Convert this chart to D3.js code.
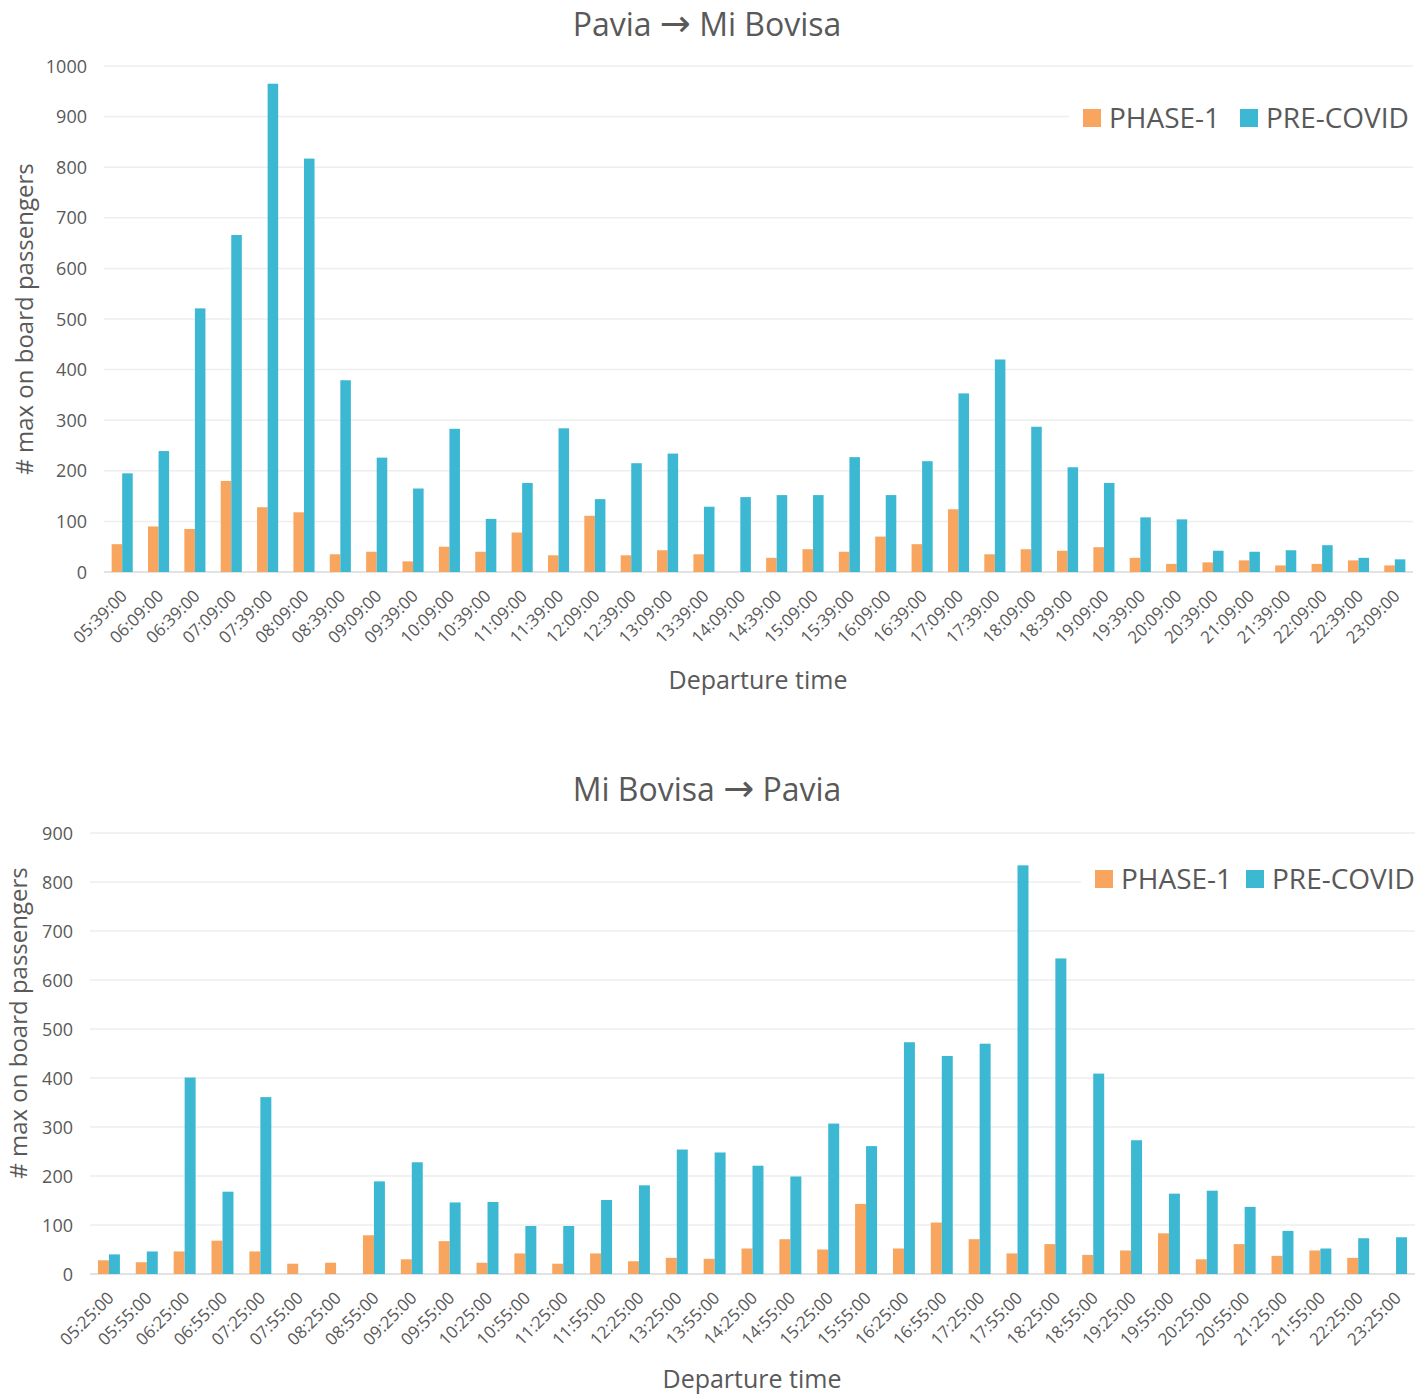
<!DOCTYPE html>
<html>
<head>
<meta charset="utf-8">
<script src="https://d3js.org/d3.v7.min.js"></script>
<style>
    body { margin: 0; background: #fff; }
    svg text { font-family: "Open Sans", "Noto Sans", sans-serif; fill: #595959; }
</style>
</head>
<body>
<div id="chart"></div>
<script>

    // Pavia -> Mi Bovisa
    var timesTop = ["05:39:00", "06:09:00", "06:39:00", "07:09:00", "07:39:00", "08:09:00",
        "08:39:00", "09:09:00", "09:39:00", "10:09:00", "10:39:00", "11:09:00", "11:39:00",
        "12:09:00", "12:39:00", "13:09:00", "13:39:00", "14:09:00", "14:39:00", "15:09:00",
        "15:39:00", "16:09:00", "16:39:00", "17:09:00", "17:39:00", "18:09:00", "18:39:00",
        "19:09:00", "19:39:00", "20:09:00", "20:39:00", "21:09:00", "21:39:00", "22:09:00",
        "22:39:00", "23:09:00"];
    var phase1Top = [55, 90, 85, 180, 128, 118, 35, 40, 21, 50, 40, 78, 33, 111, 33, 43, 35, 0,
        28, 45, 40, 70, 55, 124, 35, 45, 42, 49, 28, 16, 19, 23, 13, 16, 23, 13];
    var precovidTop = [195, 239, 521, 666, 965, 817, 379, 226, 165, 283, 105, 176, 284, 144, 215,
        234, 129, 148, 152, 152, 227, 152, 219, 353, 420, 287, 207, 176, 108, 104, 42, 40, 43,
        53, 28, 25];

    // Mi Bovisa -> Pavia
    var timesBottom = ["05:25:00", "05:55:00", "06:25:00", "06:55:00", "07:25:00", "07:55:00",
        "08:25:00", "08:55:00", "09:25:00", "09:55:00", "10:25:00", "10:55:00", "11:25:00",
        "11:55:00", "12:25:00", "13:25:00", "13:55:00", "14:25:00", "14:55:00", "15:25:00",
        "15:55:00", "16:25:00", "16:55:00", "17:25:00", "17:55:00", "18:25:00", "18:55:00",
        "19:25:00", "19:55:00", "20:25:00", "20:55:00", "21:25:00", "21:55:00", "22:25:00",
        "23:25:00"];
    var phase1Bottom = [28, 24, 46, 68, 46, 21, 23, 79, 30, 67, 23, 42, 21, 42, 26, 33, 31, 52,
        71, 50, 143, 52, 105, 71, 42, 61, 39, 48, 83, 30, 61, 37, 48, 33, 0];
    var precovidBottom = [40, 46, 401, 168, 361, 0, 0, 189, 228, 146, 147, 98, 98, 151, 181, 254,
        248, 221, 199, 307, 261, 473, 445, 470, 834, 644, 409, 273, 164, 170, 137, 88, 52, 73, 75];

    var seriesNames = ["PHASE-1", "PRE-COVID"];
    var colors = ["#F8A55F", "#3DB8D2"];

    var svg = d3.select("#chart").append("svg")
        .attr("width", 1418)
        .attr("height", 1397);

    function drawChart(cfg) {
        var g = svg.append("g");
        var x = d3.scaleBand()
            .domain(cfg.times)
            .range([cfg.left, cfg.right])
            .paddingInner(0.42)
            .paddingOuter(0.21);
        var xs = d3.scaleBand()
            .domain(seriesNames)
            .range([0, x.bandwidth()]);
        var y = d3.scaleLinear()
            .domain([0, cfg.max])
            .range([cfg.bottom, cfg.top]);

        // gridlines
        var ticks = d3.range(0, cfg.max + 1, 100);
        g.selectAll(".grid")
            .data(ticks)
            .enter().append("line")
            .attr("x1", cfg.left)
            .attr("x2", cfg.right)
            .attr("y1", function (d) { return y(d) })
            .attr("y2", function (d) { return y(d) })
            .attr("stroke", function (d) { return d === 0 ? "#D9D9D9" : "#EEEEEE" })
            .attr("stroke-width", 1.5);

        // y axis labels
        g.selectAll(".ylab")
            .data(ticks)
            .enter().append("text")
            .attr("x", cfg.left - 17)
            .attr("y", function (d) { return y(d) + 6.5 })
            .attr("text-anchor", "end")
            .style("font-size", "18px")
            .text(function (d) { return d });

        // bars
        var groups = g.selectAll(".bar-group")
            .data(cfg.times)
            .enter().append("g")
            .attr("transform", function (d) { return "translate(" + x(d) + ",0)" });
        groups.selectAll("rect")
            .data(function (d, i) {
                return [
                    { key: seriesNames[0], value: cfg.phase1[i] },
                    { key: seriesNames[1], value: cfg.precovid[i] }
                ];
            })
            .enter().append("rect")
            .filter(function (d) { return d.value > 0 })
            .attr("x", function (d) { return xs(d.key) })
            .attr("width", xs.bandwidth())
            .attr("y", function (d) { return y(d.value) })
            .attr("height", function (d) { return y(0) - y(d.value) })
            .attr("fill", function (d, i) { return d.key === seriesNames[0] ? colors[0] : colors[1] });

        // x tick labels
        g.selectAll(".xlab")
            .data(cfg.times)
            .enter().append("text")
            .attr("text-anchor", "end")
            .attr("transform", function (d) {
                var cx = x(d) + x.bandwidth() / 2 + 6;
                return "translate(" + cx + "," + (cfg.bottom + 25) + ") rotate(-45)";
            })
            .style("font-size", "17px")
            .text(function (d) { return d });

        // titles
        var t = g.append("text")
            .attr("x", cfg.titleX)
            .attr("y", cfg.titleY)
            .attr("text-anchor", "middle")
            .style("font-size", "32px");
        t.append("tspan").text(cfg.title[0] + " ");
        t.append("tspan")
            .style("font-family", "'DejaVu Sans'")
            .style("font-size", "37px")
            .text("\u2192");
        t.append("tspan").text(" " + cfg.title[1]);

        g.append("text")
            .attr("x", cfg.xlabX)
            .attr("y", cfg.xlabY)
            .attr("text-anchor", "middle")
            .style("font-size", "25px")
            .text("Departure time");
        g.append("text")
            .attr("transform", "translate(" + cfg.ylabX + "," + cfg.ylabY + ") rotate(-90)")
            .attr("text-anchor", "middle")
            .style("font-size", "24px")
            .text("# max on board passengers");

        // legend
        var lg = g.append("g").attr("transform", "translate(" + cfg.legX + "," + cfg.legY + ")");
        lg.append("rect")
            .attr("x", -14).attr("y", -22)
            .attr("width", 1418 - cfg.legX + 14).attr("height", 44)
            .attr("fill", "#fff");
        var item = lg.selectAll(".leg")
            .data(seriesNames)
            .enter().append("g")
            .attr("transform", function (d, i) { return "translate(" + cfg.legOffsets[i] + ",0)" });
        item.append("rect")
            .attr("x", 0).attr("y", -9)
            .attr("width", 18).attr("height", 18)
            .attr("fill", function (d, i) { return colors[i] });
        item.append("text")
            .attr("x", 26).attr("y", 10)
            .style("font-size", "28px")
            .text(function (d) { return d });
    }

    drawChart({
        times: timesTop, phase1: phase1Top, precovid: precovidTop,
        left: 104, right: 1413, top: 66, bottom: 572, max: 1000,
        title: ["Pavia", "Mi Bovisa"], titleX: 707, titleY: 36,
        xlabX: 758, xlabY: 689, ylabX: 33, ylabY: 319,
        legX: 1083, legY: 118, legOffsets: [0, 157]
    });

    drawChart({
        times: timesBottom, phase1: phase1Bottom, precovid: precovidBottom,
        left: 90, right: 1415, top: 833, bottom: 1274, max: 900,
        title: ["Mi Bovisa", "Pavia"], titleX: 707, titleY: 801,
        xlabX: 752, xlabY: 1388, ylabX: 27, ylabY: 1023,
        legX: 1095, legY: 879, legOffsets: [0, 151]
    });

</script>
</body>
</html>
